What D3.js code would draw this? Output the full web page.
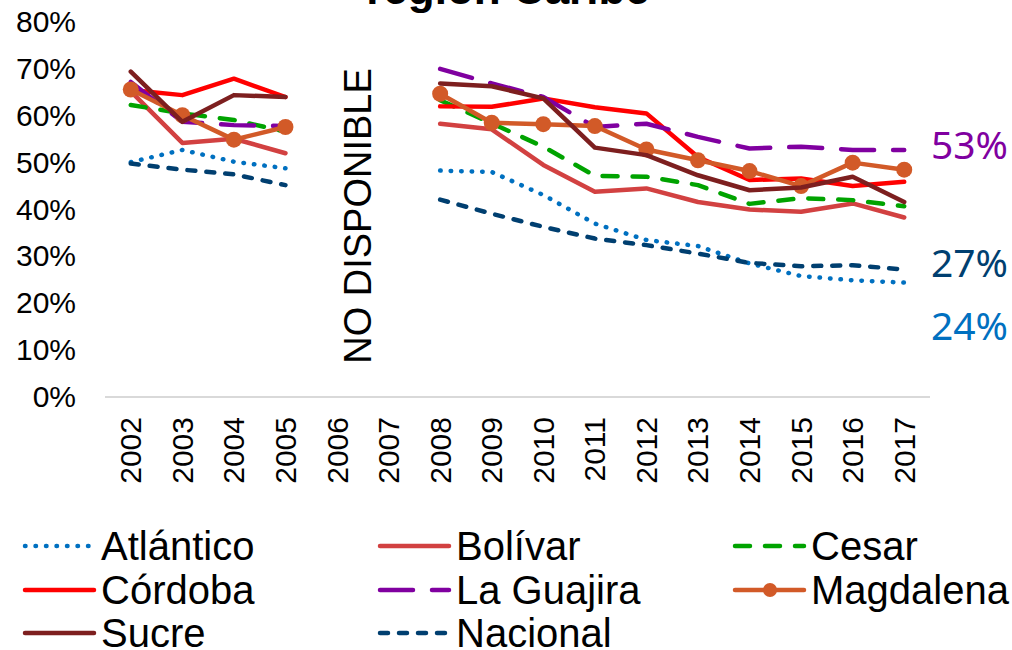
<!doctype html>
<html>
<head>
<meta charset="utf-8">
<script src="https://cdnjs.cloudflare.com/ajax/libs/d3/7.8.5/d3.min.js"></script>
<style>
  body { margin: 0; background: #fff; }
  svg { font-family: "Liberation Sans", Arial, sans-serif; }
</style>
</head>
<body>
<svg id="chart" width="1012" height="650"></svg>
<script>
// years on the x axis (2006 and 2007 have no data)
var years = ["2002","2003","2004","2005","2006","2007","2008","2009","2010","2011","2012","2013","2014","2015","2016","2017"];
var yTicks = [0, 0.1, 0.2, 0.3, 0.4, 0.5, 0.6, 0.7, 0.8];

// values per department
var atlantico = [0.501, 0.527, 0.502, 0.488, null, null, 0.483, 0.480, 0.431, 0.370, 0.335, 0.322, 0.285, 0.258, 0.249, 0.244];
var bolivar   = [0.652, 0.542, 0.551, 0.520, null, null, 0.583, 0.571, 0.495, 0.438, 0.445, 0.416, 0.400, 0.395, 0.413, 0.383];
var cesar     = [0.623, 0.605, 0.591, 0.566, null, null, 0.633, 0.584, 0.534, 0.472, 0.470, 0.452, 0.412, 0.424, 0.420, 0.407];
var cordoba   = [0.655, 0.644, 0.679, 0.640, null, null, 0.620, 0.619, 0.637, 0.618, 0.605, 0.512, 0.463, 0.466, 0.450, 0.459];
var guajira   = [0.672, 0.587, 0.580, 0.578, null, null, 0.700, 0.669, 0.640, 0.576, 0.583, 0.555, 0.530, 0.534, 0.527, 0.527];
var magdalena = [0.656, 0.601, 0.549, 0.576, null, null, 0.647, 0.585, 0.582, 0.578, 0.528, 0.505, 0.482, 0.450, 0.500, 0.485];
var sucre     = [0.694, 0.587, 0.644, 0.640, null, null, 0.669, 0.663, 0.637, 0.532, 0.516, 0.473, 0.441, 0.447, 0.470, 0.416];
var nacional  = [0.498, 0.485, 0.475, 0.452, null, null, 0.421, 0.391, 0.363, 0.338, 0.324, 0.306, 0.286, 0.279, 0.281, 0.272];

var series = [
  {name: "Atlántico", values: atlantico, color: "#0070c0", dash: "0.5,10"},
  {name: "Bolívar",   values: bolivar,   color: "#d24141", dash: null},
  {name: "Cesar",     values: cesar,     color: "#00a300", dash: "15,15"},
  {name: "Córdoba",   values: cordoba,   color: "#ff0000", dash: null},
  {name: "La Guajira",values: guajira,   color: "#8000a0", dash: "33,19"},
  {name: "Magdalena", values: magdalena, color: "#d25a28", dash: null, marker: true},
  {name: "Sucre",     values: sucre,     color: "#7d1f1f", dash: null},
  {name: "Nacional",  values: nacional,  color: "#003f70", dash: "8,11"}
];

// end labels
var endLabels = [
  {text: "53%", color: "#8000a0", y: 159},
  {text: "27%", color: "#003f70", y: 277},
  {text: "24%", color: "#0070c0", y: 340}
];

var svg = d3.select("#chart");

var x = d3.scaleBand().domain(years).range([105, 930]);
var y = d3.scaleLinear().domain([0, 0.8]).range([397, 22]);
var cx = function(i) { return x(years[i]) + x.bandwidth() / 2; };

// title (cut at top)
svg.append("text")
  .attr("x", 508).attr("y", 4)
  .attr("text-anchor", "middle")
  .style("font-size", "44px").style("font-weight", "bold")
  .text("región Caribe");

// baseline
svg.append("line")
  .attr("x1", 105).attr("x2", 930)
  .attr("y1", y(0)).attr("y2", y(0))
  .attr("stroke", "#d9d9d9").attr("stroke-width", 2);

// y axis
var yAxis = svg.append("g")
  .attr("transform", "translate(105,0)")
  .call(d3.axisLeft(y).tickValues(yTicks).tickSize(0).tickPadding(29).tickFormat(d3.format(".0%")));
yAxis.select(".domain").remove();
yAxis.selectAll("text").style("font-size", "30px").style("font-family", "'Liberation Sans', Arial").attr("fill", "#000");

// x axis
var xAxis = svg.append("g")
  .attr("transform", "translate(0," + y(0) + ")")
  .call(d3.axisBottom(x).tickSize(0));
xAxis.select(".domain").remove();
xAxis.selectAll("text")
  .attr("transform", "rotate(-90)")
  .attr("x", -20).attr("y", 0).attr("dy", "0.35em")
  .attr("text-anchor", "end")
  .style("font-size", "30px").style("font-family", "'Liberation Sans', Arial").attr("fill", "#000");

// not available note
svg.append("text")
  .attr("transform", "translate(371,216) rotate(-90)")
  .attr("text-anchor", "middle")
  .style("font-size", "38px")
  .text("NO DISPONIBLE");

var line = d3.line()
  .defined(function(d) { return d != null; })
  .x(function(d, i) { return cx(i); })
  .y(function(d) { return y(d); });

series.forEach(function(s) {
  svg.append("path")
    .datum(s.values)
    .attr("d", line)
    .attr("fill", "none")
    .attr("stroke", s.color)
    .attr("stroke-width", 4.5)
    .attr("stroke-linecap", "round")
    .attr("stroke-linejoin", "round")
    .attr("stroke-dasharray", s.dash);
  if (s.marker) {
    svg.append("g").selectAll("circle")
      .data(s.values.map(function(v, i) { return {v: v, i: i}; }).filter(function(d) { return d.v != null; }))
      .enter().append("circle")
      .attr("cx", function(d) { return cx(d.i); })
      .attr("cy", function(d) { return y(d.v); })
      .attr("r", 8)
      .attr("fill", s.color);
  }
});

// end labels
svg.selectAll(".endlab").data(endLabels).enter().append("text")
  .attr("class", "endlab")
  .attr("x", 931).attr("y", function(d) { return d.y; })
  .attr("fill", function(d) { return d.color; })
  .style("font-size", "39px")
  .style("font-family", "'Noto Sans', 'Liberation Sans', sans-serif")
  .text(function(d) { return d.text; });

// legend, 3 columns
var colX = [25, 380, 735];
var rowY = [546, 590, 633];
var legend = svg.append("g");
series.forEach(function(s, i) {
  var gx = colX[i % 3], gy = rowY[Math.floor(i / 3)];
  legend.append("line")
    .attr("x1", gx).attr("x2", gx + 69)
    .attr("y1", gy).attr("y2", gy)
    .attr("stroke", s.color).attr("stroke-width", 4.5)
    .attr("stroke-linecap", "round")
    .attr("stroke-dasharray", s.dash);
  if (s.marker) {
    legend.append("circle").attr("cx", gx + 35).attr("cy", gy).attr("r", 7).attr("fill", s.color);
  }
  legend.append("text")
    .attr("x", gx + 76).attr("y", gy + 14)
    .style("font-size", "40px")
    .text(s.name);
});
</script>
</body>
</html>
